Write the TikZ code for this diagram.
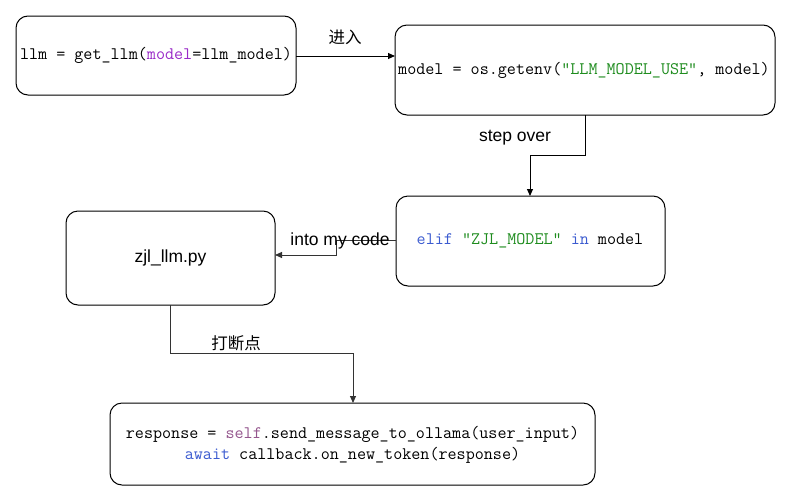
\documentclass[tikz,border=0pt]{standalone}
\usepackage{fontspec}
\setmainfont{Liberation Sans}
\newfontfamily\codefont{Latin Modern Mono}
\newfontfamily\cjk{Noto Sans CJK SC}
\usetikzlibrary{arrows.meta}
\definecolor{kwblue}{HTML}{3B5BD0}
\definecolor{strgreen}{HTML}{1E8C1E}
\definecolor{argpurple}{HTML}{9A2BC8}
\definecolor{selfpink}{HTML}{94558D}
\definecolor{linegray}{HTML}{333333}
\begin{document}
\begin{tikzpicture}[x=1pt,y=-1pt,
  box/.style={draw=black,line width=1pt,rounded corners=12pt,fill=white},
  code/.style={font=\codefont\fontsize{17.6}{22}\selectfont,align=center},
  lbl/.style={font=\fontsize{17.5}{20}\selectfont},
  cjklbl/.style={font=\cjk\fontsize{16.5}{20}\selectfont},
  conn/.style={line width=1pt,-{Triangle[length=7pt,width=6pt]}}]
\useasboundingbox (0,0) rectangle (791,501);
% boxes
\draw[box] (16,16) rectangle (296,95);
\node[code] (a) at (156,55.5) {llm = get\_llm(\textcolor{argpurple}{model}=llm\_model)};
\draw[box] (395,25) rectangle (775,115);
\node[code] (b) at (584,70) {model = os.getenv(\textcolor{strgreen}{”LLM\_MODEL\_USE”}, model)};
\draw[box] (396,196) rectangle (665,286);
\node[code] (c) at (530,241) {\textcolor{kwblue}{elif} \textcolor{strgreen}{”ZJL\_MODEL”} \textcolor{kwblue}{in} model};
\draw[box] (66,211) rectangle (275,305);
\node[lbl] (d) at (170.5,258) {zjl\_llm.py};
\draw[box] (110,403) rectangle (595,485);
\node[code] (e) at (352.5,445) {response = \textcolor{selfpink}{self}.send\_message\_to\_ollama(user\_input)\\[-1pt]
\textcolor{kwblue}{await} callback.on\_new\_token(response)};
% anchor coordinates on box borders
\coordinate (aR) at (296,56);
\coordinate (bL) at (395,56);
\coordinate (bB) at (585,115);
\coordinate (cT) at (530,196);
\coordinate (cL) at (396,240);
\coordinate (dR) at (275,255);
\coordinate (dB) at (170,305);
\coordinate (eT) at (353,403);
% connectors
\draw[conn] (aR) -- (bL);
\node[cjklbl] (l1) at (345,37) {进入};
\draw[conn] (bB) -- (585,155) -- (530,155) -- (cT);
\node[lbl] (l2) at (515,137.5) {step over};
\draw[conn,draw=linegray] (cL) -- (336,240) -- (336,255) -- (dR);
\node[lbl] (l3) at (340,240.5) {into my code};
\draw[conn,draw=linegray] (dB) -- (170,353) -- (353,353) -- (eT);
\node[cjklbl] (l4) at (236,343) {打断点};
\end{tikzpicture}
\end{document}
